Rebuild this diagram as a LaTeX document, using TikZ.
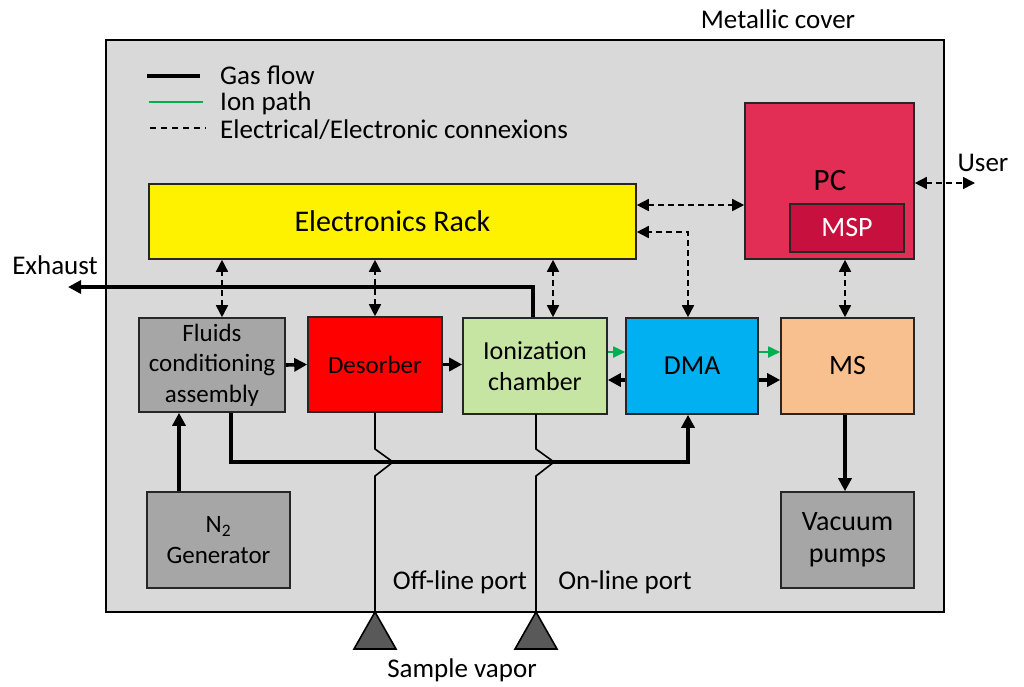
\documentclass[tikz,border=0pt]{standalone}
\usepackage{fontspec}
\setmainfont{Carlito}
\usetikzlibrary{arrows.meta,calc}
\definecolor{bggray}{HTML}{D9D9D9}
\definecolor{boxgray}{HTML}{A6A6A6}
\definecolor{ionfill}{HTML}{C6E5A3}
\definecolor{dmafill}{HTML}{00B0F0}
\definecolor{msfill}{HTML}{F9C08F}
\definecolor{pcfill}{HTML}{E22E55}
\definecolor{mspfill}{HTML}{C8103F}
\definecolor{iongreen}{HTML}{00B050}
\definecolor{tri}{HTML}{595959}
\begin{document}
\begin{tikzpicture}[x=1pt,y=-1pt,
  blk/.style={draw=black!85,line width=1.6pt,minimum width=#1,inner sep=0pt,align=center,
     font=\fontsize{25}{30.5}\selectfont},
  gas/.style={line width=3.6pt,-{Triangle[length=13pt,width=13pt]}},
  gasline/.style={line width=3.6pt},
  ion/.style={line width=1.8pt,draw=iongreen,-{Triangle[length=12pt,width=11pt]},iongreen},
  elec/.style={line width=1.6pt,dash pattern=on 6pt off 4pt,{Triangle[length=12pt,width=12pt]}-{Triangle[length=12pt,width=12pt]}},
  thin/.style={line width=1.6pt},
  lbl/.style={font=\fontsize{27}{30}\selectfont,inner sep=0pt},
  leg/.style={lbl,anchor=base west,text height=15pt,text depth=2pt}
]
\useasboundingbox (0,0) rectangle (1024,686);
% cover
\draw[fill=bggray,line width=1.6pt] (106,40) rectangle (944,612);
\node[lbl] (cover) at (778,19) {Metallic cover};
% legend
\draw[gasline] (147,76) -- (200,76);
\node[leg] (lg1) at (220,84.5) {Gas flow};
\draw[line width=1.8pt,iongreen] (149,102) -- (203,102);
\node[leg] (lg2) at (220,110) {Ion path};
\draw[line width=1.6pt,dash pattern=on 6pt off 5pt] (150,128) -- (206,128);
\node[leg] (lg3) at (220,138) {Electrical/Electronic connexions};
% blocks
\node[blk=487pt,minimum height=75pt,fill=yellow,font=\fontsize{30}{30}\selectfont] (rack) at (392.5,221.5) {Electronics Rack};
\node[blk=169pt,minimum height=156pt,fill=pcfill] (pc) at (829.5,181) {};
\node[lbl,font=\fontsize{31}{30}\selectfont] (pclbl) at (830,181) {PC};
\node[blk=114pt,minimum height=48pt,fill=mspfill,text=white,font=\fontsize{28}{30}\selectfont] (msp) at (847,228) {MSP};
\node[blk=146pt,minimum height=94pt,fill=boxgray] (fl) at (212,365) {Fluids\\conditioning\\assembly};
\node[blk=134pt,minimum height=95pt,fill=red] (de) at (375,364.5) {Desorber};
\node[blk=144pt,minimum height=96pt,fill=ionfill,font=\fontsize{26}{30.5}\selectfont] (io) at (535,366) {Ionization\\chamber};
\node[blk=132pt,minimum height=96pt,fill=dmafill,font=\fontsize{27.5}{30}\selectfont] (dma) at (692,366) {DMA};
\node[blk=133pt,minimum height=96pt,fill=msfill,font=\fontsize{28}{30}\selectfont] (ms) at (847.5,366) {MS};
\node[blk=143pt,minimum height=96pt,fill=boxgray] (n2) at (218.5,540) {N\textsubscript{2}\\Generator};
\node[blk=133pt,minimum height=96pt,fill=boxgray,font=\fontsize{28}{32}\selectfont] (vac) at (847.5,540) {Vacuum\\pumps};
% electrical
\draw[elec] ([xshift=10pt]fl.north) -- ([xshift=10pt]fl.north |- rack.south);
\draw[elec] (de.north) -- (de.north |- rack.south);
\draw[elec] ([xshift=18pt]io.north) -- ([xshift=18pt]io.north |- rack.south);
\draw[elec] (rack.east |- 0,205) -- (pc.west |- 0,205);
\draw[elec] ([xshift=-4pt]dma.north) |- ([yshift=-10.5pt]rack.east);
\draw[elec] (ms.north -| 845,0) -- (pc.south -| 845,0);
\coordinate (user) at (975,183);
\draw[elec] (pc.east |- user) -- (user);
\node[lbl] (userlbl) at (983,163) {User};
% gas flow
\draw[gas] (fl.east) -- (de.west);
\draw[gas] (de.east) -- (de.east -| io.west);
\draw[gas] ([yshift=-14pt]dma.west) -- ([yshift=-14pt]dma.west -| io.east);
\draw[gas] ([yshift=-14pt]dma.east) -- ([yshift=-14pt]dma.east -| ms.west);
\draw[ion] ([yshift=14pt]io.east) -- ([yshift=14pt]io.east -| dma.west);
\draw[ion] ([yshift=14pt]dma.east) -- ([yshift=14pt]dma.east -| ms.west);
\coordinate (exh) at (68,287);
\draw[gas] ([xshift=-2pt]io.north) |- (exh);
\node[lbl] (exhlbl) at (55,265) {Exhaust};
\draw[gas] ([xshift=19pt]fl.south) |- (688,462) -- ([xshift=-4pt]dma.south);
\draw[gas] (n2.north -| 179,0) -- (fl.south -| 179,0);
\draw[gas] (ms.south -| 845,0) -- (vac.north -| 845,0);
% sample lines
\coordinate (offp) at (375,612);
\coordinate (onp) at (536,612);
\draw[thin,line join=miter] (offp) -- (375,476) -- (393,462) -- (375,449) -- (de.south);
\draw[thin,line join=miter] (onp) -- (536,476) -- (554,462) -- (536,449) -- (536,414);
\draw[thin,fill=tri] (offp) -- (354,649) -- (396,649) -- cycle;
\draw[thin,fill=tri] (onp) -- (515,649) -- (557,649) -- cycle;
\node[lbl] (offl) at (460,582) {Off-line port};
\node[lbl] (onl) at (625,582) {On-line port};
\node[lbl] (sv) at (462,670) {Sample vapor};
\end{tikzpicture}
\end{document}
